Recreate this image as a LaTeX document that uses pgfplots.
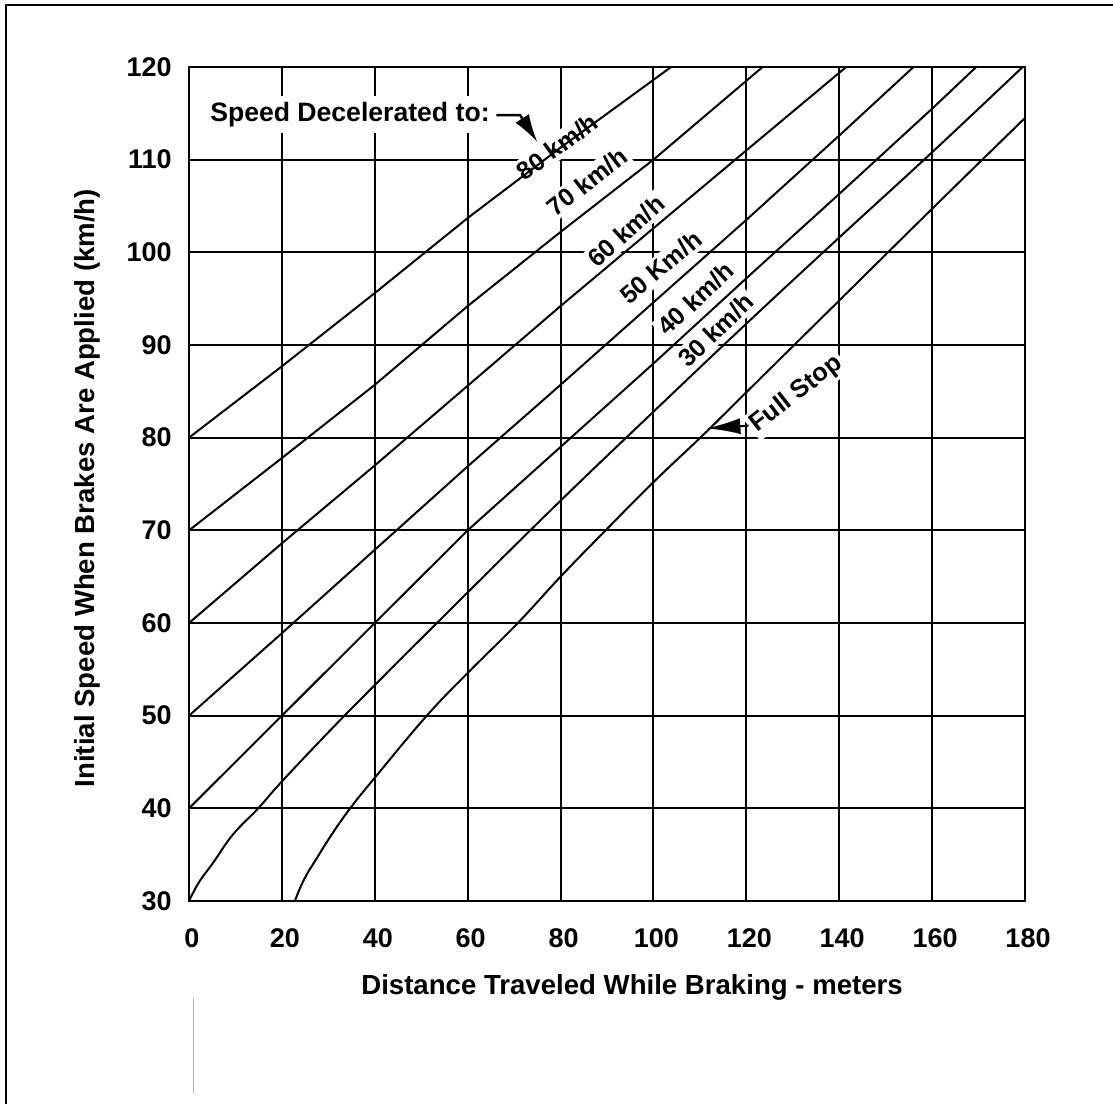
\documentclass[border=0pt]{standalone}
\usepackage{pgfplots}
\pgfplotsset{compat=1.18}
\usepackage{fontspec}
\setmainfont{Liberation Sans}
\usetikzlibrary{arrows.meta}
\newcommand{\lf}{\fontsize{12.5}{14}\selectfont\bfseries}
\begin{document}
\begin{tikzpicture}
\path[use as bounding box] (0,0) rectangle (556.5pt,552pt);
\draw[line width=1pt] (3.2pt,0pt) -- (3.2pt,549.3pt) -- (556.5pt,549.3pt);
\draw[gray!60, line width=0.5pt] (96.5pt,5.5pt) -- (96.5pt,53pt);
\begin{axis}[
  at={(94.5pt,101.5pt)}, anchor=south west,
  scale only axis, width=418pt, height=417pt,
  xmin=0, xmax=180, ymin=30, ymax=120,
  xtick={0,20,...,180}, ytick={30,40,...,120},
  grid=major,
  major grid style={black, line width=1pt},
  axis line style={black, line width=1.3pt},
  major tick length=0pt,
  /pgf/number format/assume math mode=true,
  tick label style={font=\fontsize{13.5}{16}\selectfont\bfseries},
  xticklabel style={inner sep=0pt, anchor=north, yshift=-13.8pt, xshift=1.5pt},
  yticklabel style={inner sep=0pt, anchor=east, xshift=-8.5pt},
  xlabel={Distance Traveled While Braking - meters},
  ylabel={Initial Speed When Brakes Are Applied (km/h)},
  xlabel style={font=\fontsize{13.8}{16}\selectfont\bfseries, at={(axis description cs:0.530,-0.1122)}, anchor=base, inner sep=0pt},
  ylabel style={font=\fontsize{13.8}{16}\selectfont\bfseries, at={(axis description cs:-0.1129,0.495)}, anchor=base, inner sep=0pt},
]
% labels (white boxes hide grid lines, curves are drawn over them)
\node[anchor=base west, fill=white, inner sep=3pt, font=\fontsize{13.3}{16}\selectfont\bfseries] at (axis cs:3.2,114.1) {Speed Decelerated to:};
\node[rotate=36, fill=white, inner sep=1.5pt, font=\lf] at (axis cs:79.3,111.4) {80 km/h};
\node[rotate=38, fill=white, inner sep=1.5pt, font=\lf] at (axis cs:85.7,107.6) {70 km/h};
\node[rotate=42, fill=white, inner sep=1.5pt, font=\lf] at (axis cs:94.1,102.3) {60 km/h};
\node[rotate=40, fill=white, inner sep=1.5pt, font=\lf] at (axis cs:101.6,98.4) {50 Km/h};
\node[rotate=43, fill=white, inner sep=1.5pt, font=\lf] at (axis cs:109.1,95.0) {40 km/h};
\node[rotate=44, fill=white, inner sep=1.5pt, font=\lf] at (axis cs:113.4,91.6) {30 km/h};
\node[rotate=38, fill=white, inner sep=1.5pt, font=\fontsize{12.7}{14}\selectfont\bfseries] at (axis cs:130.8,84.7) {Full Stop};

% curves: speed decelerated to 80, 70, 60, 50, 40, 30 km/h
\addplot[black, line width=1pt] coordinates {(0,80) (20,87.7) (40,95.6) (60,103.7) (80,111.3) (103.8,120)};
\addplot[black, line width=1pt] coordinates {(0,70) (20,77.8) (40,85.7) (60,94.2) (80,102.2) (100,110) (123.5,120)};
\addplot[black, line width=1pt] coordinates {(0,60) (20,68.6) (40,77.0) (60,85.6) (80,94.2) (100,102.6) (120,111.0) (141.5,120)};
\addplot[black, line width=1pt] coordinates {(0,50) (20,58.9) (40,67.9) (60,76.9) (80,85.7) (100,94.6) (120,103.5) (140,112.6) (156,120)};
\addplot[black, line width=1pt] coordinates {(0,40) (20,50) (40,60) (60,70) (80,79.0) (100,88.0) (120,97.2) (140,106.3) (160,115.5) (169.5,120)};
\addplot[black, line width=1pt, smooth, tension=0.7] coordinates {(0,30) (1,31.0) (2.5,32.3) (5.3,34.2) (9.5,37.2) (14.9,40.0) (20,42.9) (30,48.2) (40,53.3) (60,63.3) (80,73.2) (100,82.8) (120,92.3) (140,101.6) (160,110.8) (179.5,120)};
% full stop
\addplot[black, line width=1pt, smooth, tension=0.7] coordinates {(22.8,30) (24,31.5) (25.5,33) (27,34.2) (30.5,37) (34.7,40) (40,43.3) (51.2,50) (60,54.6) (70.8,60) (80,65.0) (89.7,70) (100,75.2) (110.5,80.2) (120,84.9) (140,94.8) (160,104.7) (180,114.5)};

% arrows
\draw[line width=1.2pt, -{Latex[length=14pt,width=8pt]}] (axis cs:66.2,114.8) -- (axis cs:71.3,114.8) -- (axis cs:75.0,111.9);
\draw[line width=1pt, -{Latex[length=17pt,width=8pt]}] (axis cs:120.5,81.3) -- (axis cs:111.4,81.0);
\end{axis}
\end{tikzpicture}
\end{document}
